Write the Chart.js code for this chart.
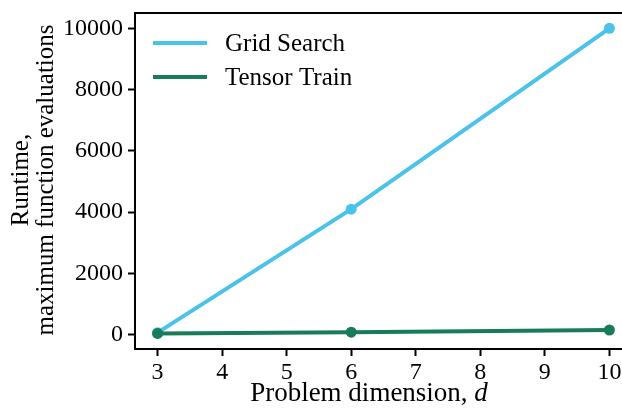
<!DOCTYPE html>
<html>
<head>
<meta charset="utf-8">
<script src="https://cdn.jsdelivr.net/npm/chart.js@4"></script>
<style>
  html, body { margin: 0; padding: 0; background: #fff; overflow: hidden; }
  #wrap { width: 640px; height: 408px; }
</style>
</head>
<body>
<div id="wrap"><canvas id="grafico" width="640" height="408"></canvas></div>
<script>
// dados
const dimensoes = [3, 6, 10];
const gridSearch = [64, 4096, 10000];
const tensorTrain = [40, 80, 150];
const xTicks = [3, 4, 5, 6, 7, 8, 9, 10];
const yTicks = [0, 2000, 4000, 6000, 8000, 10000];

const fonte = '"Liberation Serif", "DejaVu Serif", serif';
const corGrid = '#4ac2ea';
const corTT = '#187c5a';

// legenda, moldura superior e títulos dos eixos
const extras = {
    id: 'extras',
    afterDraw(chart) {
        const ctx = chart.ctx;
        const area = chart.chartArea;
        ctx.save();
        // linha superior
        ctx.strokeStyle = '#000';
        ctx.lineWidth = 2;
        ctx.beginPath();
        ctx.moveTo(area.left - 1, area.top);
        ctx.lineTo(area.right, area.top);
        ctx.stroke();

        // legenda
        ctx.font = '25px ' + fonte;
        ctx.textBaseline = 'middle';
        ctx.fillStyle = '#000';
        chart.data.datasets.forEach((ds, i) => {
            const y = 43 + i * 34;
            ctx.strokeStyle = ds.borderColor;
            ctx.lineWidth = 4;
            ctx.beginPath();
            ctx.moveTo(153, y);
            ctx.lineTo(207, y);
            ctx.stroke();
            ctx.fillText(ds.label, 225, y + 1);
        });

        // título eixo x
        ctx.textBaseline = 'alphabetic';
        const parte1 = 'Problem dimension, ';
        const parte2 = 'd';
        ctx.font = '27px ' + fonte;
        const w1 = ctx.measureText(parte1).width;
        ctx.font = 'italic 27px ' + fonte;
        const w2 = ctx.measureText(parte2).width;
        const x0 = 369 - (w1 + w2) / 2;
        ctx.font = '27px ' + fonte;
        ctx.fillText(parte1, x0, 401);
        ctx.font = 'italic 27px ' + fonte;
        ctx.fillText(parte2, x0 + w1, 401);

        // título eixo y
        ctx.font = '25px ' + fonte;
        ctx.textAlign = 'center';
        ctx.translate(0, 180);
        ctx.rotate(-Math.PI / 2);
        ctx.fillText('Runtime,', 0, 28);
        ctx.fillText('maximum function evaluations', 0, 53);
        ctx.restore();
    }
};

new Chart(document.getElementById('grafico'), {
    type: 'line',
    data: {
        datasets: [
            {
                label: 'Grid Search',
                data: dimensoes.map((d, i) => ({ x: d, y: gridSearch[i] })),
                borderColor: corGrid,
                backgroundColor: corGrid,
                borderWidth: 4,
                pointRadius: 5.5,
                pointBorderWidth: 0,
                order: 2
            },
            {
                label: 'Tensor Train',
                data: dimensoes.map((d, i) => ({ x: d, y: tensorTrain[i] })),
                borderColor: corTT,
                backgroundColor: corTT,
                borderWidth: 4,
                pointRadius: 5.5,
                pointBorderWidth: 0,
                order: 1
            }
        ]
    },
    options: {
        responsive: false,
        animation: false,
        layout: { padding: { top: 13, right: 8, left: 0, bottom: 0 } },
        plugins: {
            legend: { display: false },
            tooltip: { enabled: false }
        },
        scales: {
            x: {
                type: 'linear',
                min: 2.65,
                max: 10.35,
                afterBuildTicks: s => { s.ticks = xTicks.map(v => ({ value: v })); },
                afterFit: s => { s.height = 59; s.paddingLeft = 0; s.paddingRight = 0; },
                grid: { drawOnChartArea: false, color: '#000', tickLength: 7, tickWidth: 2 },
                border: { display: true, color: '#000', width: 2 },
                ticks: { color: '#000', font: { family: fonte, size: 24 }, padding: 2, maxRotation: 0,
                         callback: v => String(v) }
            },
            y: {
                min: -470,
                max: 10500,
                afterBuildTicks: s => { s.ticks = yTicks.map(v => ({ value: v })); },
                afterFit: s => { s.width = 135; s.paddingTop = 0; s.paddingBottom = 0; },
                grid: { drawOnChartArea: false, color: '#000', tickLength: 7, tickWidth: 2 },
                border: { display: true, color: '#000', width: 2 },
                ticks: { color: '#000', font: { family: fonte, size: 24 }, padding: 5,
                         callback: v => String(v) }
            }
        }
    },
    plugins: [extras]
});
</script>
</body>
</html>
